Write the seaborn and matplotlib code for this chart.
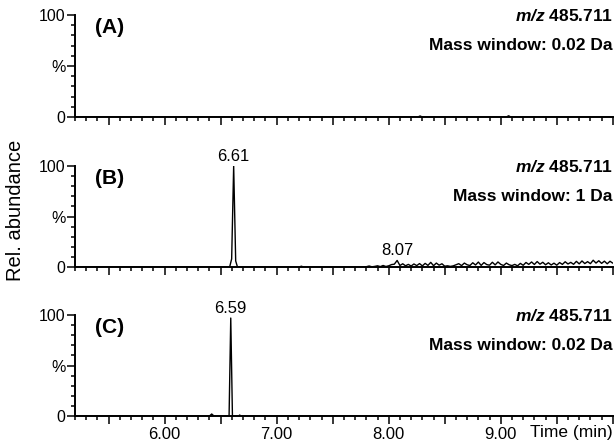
import numpy as np
import pandas as pd
import seaborn as sns
import matplotlib.pyplot as plt
from matplotlib.ticker import MultipleLocator, FixedLocator, FuncFormatter

# trace A: nothing but two tiny specks
a_time = [5.20, 8.26, 8.28, 8.30, 9.05, 9.07, 9.09, 10.00]
a_int = [0.0, 0.0, 1.0, 0.0, 0.0, 1.2, 0.0, 0.0]

# trace B: main peak + noisy baseline after ~7.8 min
b_peak_time = [5.20, 7.20, 7.22, 7.24, 6.58, 6.598, 6.616, 6.634, 6.65, 7.78]
b_peak_int = [0.0, 0.0, 0.8, 0.0, 0.0, 8.0, 100.0, 6.0, 0.0, 0.0]
b_noise = [0.3, 1.0, 0.2, 0.6, 1.2, 0.4, 1.5, 0.5, 1.2, 2.4, 2.8, 6.5, 1.5,
           3.2, 1.2, 2.6, 1.0, 3.0, 1.4, 3.4, 1.1, 3.6, 1.6, 4.6, 1.3, 3.9,
           1.8, 3.2, 0.8, 1.2, 0.6, 1.1, 2.2, 3.3, 1.4, 3.9, 2.2, 1.5, 4.2,
           2.0, 4.9, 1.6, 4.4, 2.4, 1.8, 4.7, 2.1, 5.0, 2.6, 1.5, 3.9, 2.2,
           1.4, 2.6, 1.2, 3.6, 1.7, 4.5, 2.6, 5.0, 2.5, 5.4, 2.8, 4.7, 2.2,
           4.2, 2.0, 3.8, 1.8, 4.4, 2.6, 5.2, 3.0, 4.6, 2.7, 5.6, 3.1, 6.0,
           3.4, 5.3, 3.3, 6.7, 3.9, 6.2, 3.6, 5.8, 3.2, 5.7, 3.8]
b_noise_start = 7.80
b_noise_step = 0.025

# trace C: main peak, small blips
c_time = [5.20, 6.40, 6.42, 6.44, 6.575, 6.59, 6.605, 6.62, 6.66, 6.67, 6.68, 10.00]
c_int = [0.0, 0.0, 2.0, 0.0, 0.0, 97.0, 0.0, 0.0, 0.0, 1.0, 0.0, 0.0]

labels = ["(A)", "(B)", "(C)"]
windows = ["Mass window: 0.02 Da", "Mass window: 1 Da", "Mass window: 0.02 Da"]
peak_labels = [None, [(6.616, 100.0, "6.61"), (8.075, 6.5, "8.07")],
               [(6.59, 97.0, "6.59")]]

pk = sorted(zip(b_peak_time, b_peak_int))
b_time = [t for t, _ in pk] + [b_noise_start + i * b_noise_step for i in range(len(b_noise))]
b_int = [v for _, v in pk] + b_noise

traces = [
    pd.DataFrame({"time": a_time, "intensity": a_int}),
    pd.DataFrame({"time": b_time, "intensity": b_int}),
    pd.DataFrame({"time": c_time, "intensity": c_int}),
]

sns.set_style("ticks")
plt.rcParams["font.family"] = ["Liberation Sans", "DejaVu Sans"]
plt.rcParams["mathtext.fontset"] = "custom"
plt.rcParams["mathtext.rm"] = "Liberation Sans"
plt.rcParams["mathtext.bf"] = "Liberation Sans:bold"
plt.rcParams["mathtext.bfit"] = "Liberation Sans:italic:bold"
for k in ["text.color", "axes.labelcolor", "xtick.color", "ytick.color", "axes.edgecolor"]:
    plt.rcParams[k] = "black"

fig = plt.figure(figsize=(6.16, 4.42), dpi=100)
boxes = [[0.1218, 0.7353, 0.873, 0.2308],
         [0.1218, 0.3959, 0.873, 0.2285],
         [0.1218, 0.0588, 0.873, 0.2285]]

for i, df in enumerate(traces):
    ax = fig.add_axes(boxes[i])
    sns.lineplot(data=df, x="time", y="intensity", ax=ax, color="black",
                 lw=1.0, estimator=None, sort=False)
    ax.set_xlim(5.2, 10.0)
    ax.set_ylim(0, 100)
    ax.set_xlabel("")
    ax.set_ylabel("")
    sns.despine(ax=ax)
    for s in ["left", "bottom"]:
        ax.spines[s].set_linewidth(1.4)
    ax.yaxis.set_major_locator(FixedLocator([0, 50, 100]))
    ax.yaxis.set_minor_locator(MultipleLocator(10))
    ax.set_yticklabels(["0", "%", "100"])
    ax.xaxis.set_major_locator(MultipleLocator(0.5))
    ax.xaxis.set_minor_locator(MultipleLocator(0.1))
    if i == 2:
        ax.xaxis.set_major_formatter(FuncFormatter(
            lambda v, p: f"{v:.2f}" if abs(v - round(v)) < 1e-6 and v < 9.5 else ""))
    else:
        ax.set_xticklabels([])
    ax.tick_params(which="major", length=6, width=1.1, pad=2)
    ax.tick_params(which="minor", length=3, width=1.1)
    ax.tick_params(axis="y", labelsize=11.5, pad=1)
    ax.tick_params(axis="x", labelsize=12)

    ax.text(0.037, 0.88, labels[i], transform=ax.transAxes, fontsize=15,
            fontweight="bold", va="center", ha="left")
    ax.text(1.0, 0.99, r"$\bfit{m/z}$ 485.711", transform=ax.transAxes,
            fontsize=12.5, fontweight="bold", ha="right", va="center")
    ax.text(1.0, 0.70, windows[i], transform=ax.transAxes, fontsize=12.5,
            fontweight="bold", ha="right", va="center")
    if peak_labels[i]:
        for x, y, s in peak_labels[i]:
            ax.text(x, y + 2, s, fontsize=12, ha="center", va="bottom",
                    clip_on=False)
    if i == 2:
        ax.text(1.0, -0.09, "Time (min)", transform=ax.transAxes, fontsize=12.5,
                ha="right", va="top")

fig.text(0.025, 0.523, "Rel. abundance", rotation=90, fontsize=14.5,
         ha="center", va="center")

fig.savefig("out.png", dpi=100)
